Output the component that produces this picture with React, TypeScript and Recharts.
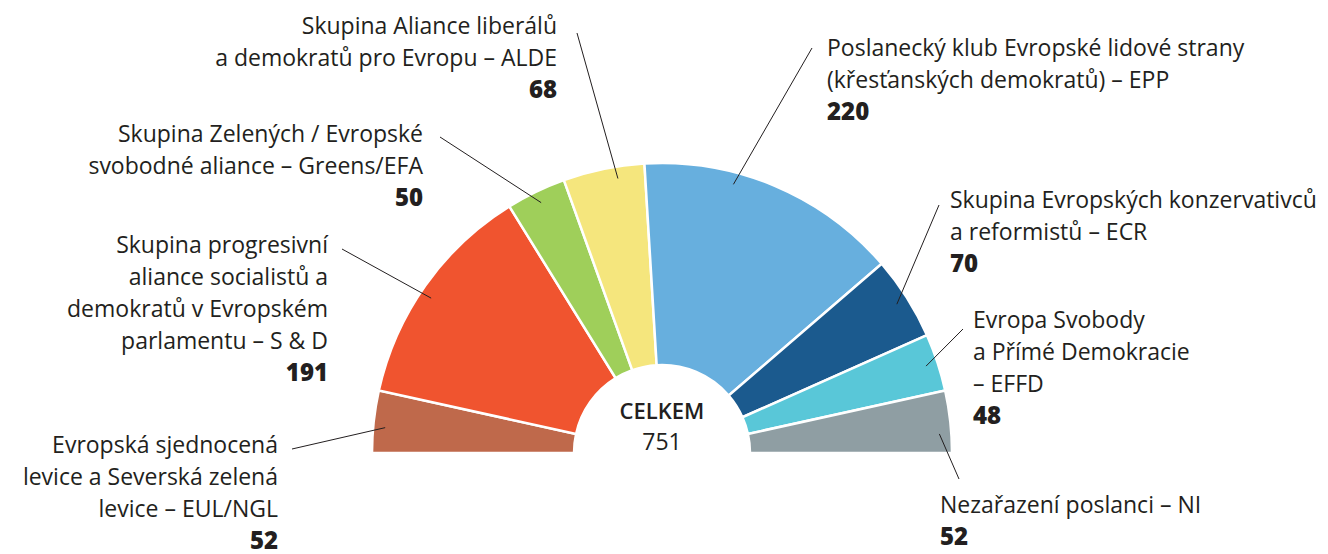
import React from "react";

import { Pie, PieChart } from "recharts";

const groups = ["EUL/NGL", "S&D", "Greens/EFA", "ALDE", "EPP", "ECR", "EFDD", "NI"];
const seats = [52, 191, 50, 68, 220, 70, 48, 52];
const labelLines = [
  ["Evropská sjednocená", "levice a Severská zelená", "levice – EUL/NGL"],
  ["Skupina progresivní", "aliance socialistů a", "demokratů v Evropském", "parlamentu – S & D"],
  ["Skupina Zelených / Evropské", "svobodné aliance – Greens/EFA"],
  ["Skupina Aliance liberálů", "a demokratů pro Evropu – ALDE"],
  ["Poslanecký klub Evropské lidové strany", "(křesťanských demokratů) – EPP"],
  ["Skupina Evropských konzervativců", "a reformistů – ECR"],
  ["Evropa Svobody", "a Přímé Demokracie", "– EFFD"],
  ["Nezařazení poslanci – NI"],
];
const colors = ["#bf694b", "#f0542f", "#9fcf5a", "#f5e67d", "#67afde", "#1b5a8e", "#59c7d8", "#8f9ea3"];
const totalLabel = "CELKEM";

// text block position, anchor, leader line outer end, pointer angle nudge
const labelLayout = [
  { x: 278, y: 453, anchor: "end", lx: 292, ly: 449, nudge: 1 },
  { x: 328, y: 253, anchor: "end", lx: 342, ly: 249, nudge: 1.5 },
  { x: 423, y: 142, anchor: "end", lx: 440, ly: 137, nudge: 0 },
  { x: 557, y: 34, anchor: "end", lx: 577, ly: 33, nudge: -2.5 },
  { x: 827, y: 56, anchor: "start", lx: 812, ly: 48, nudge: 8 },
  { x: 950, y: 208, anchor: "start", lx: 939, ly: 205, nudge: 0 },
  { x: 973, y: 328, anchor: "start", lx: 963, ly: 329, nudge: 0 },
  { x: 940, y: 513, anchor: "start", lx: 959, ly: 479, nudge: -2.3 },
];

const data = groups.map((g, i) => ({ name: g, value: seats[i], fill: colors[i] }));
const total = seats.reduce((a, b) => a + b, 0);

const FONT = "'Open Sans', 'Noto Sans', sans-serif";
const INK = "#231f20";
const RAD = Math.PI / 180;

const renderLabel = (props: any) => {
  const { cx, cy, midAngle, outerRadius, index } = props;
  const lay = labelLayout[index];
  const a = (midAngle + lay.nudge) * RAD;
  const r = outerRadius - 12;
  const px = cx + r * Math.cos(a);
  const py = cy - r * Math.sin(a);
  const lines = labelLines[index];
  return (
    <g key={`lbl-${index}`}>
      <line x1={lay.lx} y1={lay.ly} x2={px} y2={py} stroke={INK} strokeWidth={1} />
      <text x={lay.x} y={lay.y} textAnchor={lay.anchor} fontFamily={FONT} fontSize={23} fill={INK}>
        {lines.map((t, k) => (
          <tspan key={k} x={lay.x} dy={k === 0 ? 0 : 32}>
            {t}
          </tspan>
        ))}
        <tspan x={lay.x} dy={32} fontWeight={800} fontSize={24}>
          {seats[index]}
        </tspan>
      </text>
    </g>
  );
};

const App = () => {
  return (
    <div style={{ position: "absolute", left: 0, top: 0 }}>
      <PieChart width={1328} height={554}>
        <Pie
          data={data}
          dataKey="value"
          cx={657}
          cy={448}
          startAngle={180}
          endAngle={0}
          innerRadius={88}
          outerRadius={290}
          stroke="#ffffff"
          strokeWidth={2.5}
          label={renderLabel}
          labelLine={false}
          isAnimationActive={false}
        />
        <text x={662} y={419} textAnchor="middle" fontFamily={FONT} fontSize={22} fontWeight={600} fill={INK}>
          {totalLabel}
        </text>
        <text x={662} y={450} textAnchor="middle" fontFamily={FONT} fontSize={23} fill={INK}>
          {total}
        </text>
      </PieChart>
    </div>
  );
};

export default App;
